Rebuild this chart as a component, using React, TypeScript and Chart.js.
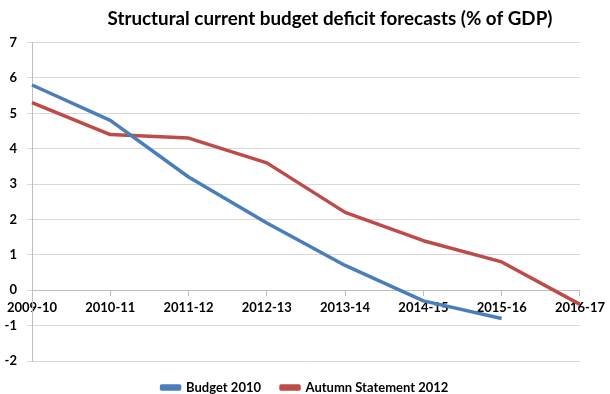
import React, { useEffect, useRef } from 'react';
import { Chart, registerables } from 'chart.js';

Chart.register(...registerables);

const titleText = 'Structural current budget deficit forecasts (% of GDP)';
const categories = ['2009-10', '2010-11', '2011-12', '2012-13', '2013-14', '2014-15', '2015-16', '2016-17'];
const budget2010 = [5.8, 4.8, 3.2, 1.9, 0.7, -0.3, -0.8, null];
const autumnStatement2012 = [5.3, 4.4, 4.3, 3.6, 2.2, 1.4, 0.8, -0.4];
const yMin = -2;
const yMax = 7;
const yStep = 1;

const FONT = 'Lato, "Open Sans", "Liberation Sans", sans-serif';
const BLUE = '#4A7EBB';
const RED = '#BE4B48';

const shiftTitle = {
  id: 'shiftTitle',
  afterLayout(chart: any) {
    const t = chart.titleBlock;
    if (t) {
      t.left += 50;
    }
  },
};

export default function App() {
  const ref = useRef<HTMLCanvasElement | null>(null);

  useEffect(() => {
    if (!ref.current) return;
    const chart = new Chart(ref.current, {
      type: 'line',
      data: {
        labels: categories,
        datasets: [
          {
            label: 'Budget 2010',
            data: budget2010,
            borderColor: BLUE,
            backgroundColor: BLUE,
            borderWidth: 3.5,
            pointRadius: 0,
            pointHoverRadius: 0,
            tension: 0,
            borderJoinStyle: 'round',
          },
          {
            label: 'Autumn Statement 2012',
            data: autumnStatement2012,
            borderColor: RED,
            backgroundColor: RED,
            borderWidth: 3.5,
            pointRadius: 0,
            pointHoverRadius: 0,
            tension: 0,
            borderJoinStyle: 'round',
          },
        ],
      },
      options: {
        animation: false,
        responsive: false,
        maintainAspectRatio: false,
        layout: { padding: { left: 0, right: 0, top: 0, bottom: -10 } },
        plugins: {
          title: {
            display: true,
            text: titleText,
            color: '#000',
            font: { family: FONT, size: 18.8, weight: 'bold' },
            padding: { top: 8, bottom: 12 },
          },
          legend: {
            display: true,
            position: 'bottom',
            labels: {
              color: '#000',
              font: { family: FONT, size: 13, weight: 'bold' },
              boxWidth: 18,
              boxHeight: 3,
              padding: 20,
            },
          },
          tooltip: { enabled: false },
        },
        scales: {
          x: {
            type: 'category',
            position: { y: 0 } as any,
            offset: false,
            grid: {
              drawOnChartArea: false,
              drawTicks: true,
              tickLength: 5,
              color: '#BFBFBF',
            },
            border: { display: true, color: '#BFBFBF' },
            ticks: {
              color: '#000',
              font: { family: FONT, size: 13, weight: 'bold' },
              padding: 5,
              maxRotation: 0,
              autoSkip: false,
            },
          },
          y: {
            min: yMin,
            max: yMax,
            ticks: {
              stepSize: yStep,
              color: '#000',
              font: { family: FONT, size: 13, weight: 'bold' },
              padding: 10,
            },
            grid: { color: '#D9D9D9', tickLength: 5 },
            border: { display: true, color: '#BFBFBF' },
            afterFit(scale: any) {
              scale.width = 32;
            },
          },
        },
      },
      plugins: [shiftTitle],
    });
    return () => chart.destroy();
  }, []);

  return (
    <div style={{ position: 'fixed', left: 0, top: 0, width: 610, height: 394, background: '#fff' }}>
      <canvas ref={ref} width={610} height={394} style={{ width: 610, height: 394, display: 'block' }} />
    </div>
  );
}
